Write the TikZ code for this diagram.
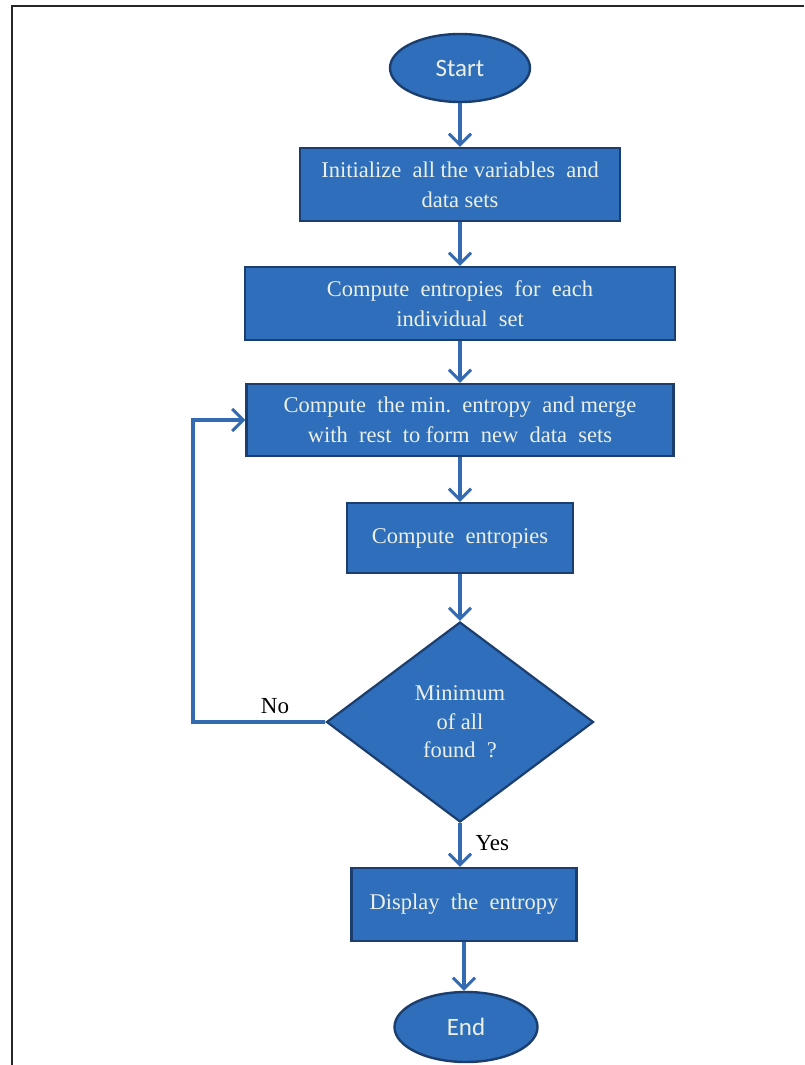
\documentclass[tikz,border=0pt]{standalone}
\usepackage{fontspec}
\setmainfont{Liberation Serif}
\newfontfamily\calib{Carlito}
\usetikzlibrary{shapes.geometric,arrows.meta}
\definecolor{boxfill}{RGB}{46,110,186}
\definecolor{boxedge}{RGB}{28,62,110}
\definecolor{flowline}{RGB}{52,106,176}
\definecolor{boxtext}{RGB}{236,240,228}
\tikzset{
  proc/.style={rectangle, draw=boxedge, line width=2.4pt, fill=boxfill,
    text=boxtext, align=center, font=\fontsize{22.5}{30}\selectfont,
    inner sep=0pt},
  term/.style={ellipse, draw=boxedge, line width=2.4pt, fill=boxfill,
    text=boxtext, font=\calib\fontsize{25}{28}\selectfont, inner sep=0pt},
  decide/.style={diamond, draw=boxedge, line width=2.2pt, fill=boxfill,
    text=boxtext, align=center, font=\fontsize{22.5}{28.5}\selectfont,
    inner sep=0pt},
  flow/.style={draw=flowline, line width=3.3pt,
    -{Straight Barb[length=11pt,width=22pt,line width=3pt]}},
  tag/.style={font=\fontsize{23}{26}\selectfont, text=black},
}
\begin{document}
\begin{tikzpicture}[x=1pt,y=-1pt]
\useasboundingbox (0,0) rectangle (804,1065);
% page frame (top and left edges only)
\draw[line width=2.5pt, black!85] (804,6) -- (12,6) -- (12,1065);

\node[term, minimum width=140pt, minimum height=68pt] (start) at (460,68) {Start};
\node[proc, minimum width=320pt, minimum height=73pt] (init) at (460,184.5)
  {Initialize\ \ all\ the\ variables\ \ and\\ data sets};
\node[proc, minimum width=430pt, minimum height=73pt] (ent) at (460,303.5)
  {Compute\ \ entropies\ \ for\ \ each\\ individual\ \ set};
\node[proc, minimum width=427pt, minimum height=72pt] (merge) at (460,420)
  {Compute\ \ the min.\ \ entropy\ \ and\ merge\\ with\ \ rest\ \ to form\ \ new\ \ data\ \ sets};
\node[proc, minimum width=226pt, minimum height=70pt] (ent2) at (460,538)
  {Compute\ \ entropies};
\node[decide, minimum width=267pt, minimum height=200pt] (dec) at (460,722)
  {Minimum\\ of all\\ found\ \ ?};
\node[proc, minimum width=225pt, minimum height=73pt] (disp) at (464,904.5)
  {Display\ \ the\ \ entropy};
\node[term, minimum width=143pt, minimum height=70pt] (end) at (466,1027) {End};

\coordinate (loop) at (193,722);

\draw[flow] (start) -- (init);
\draw[flow] (init) -- (ent);
\draw[flow] (ent) -- (merge);
\draw[flow] (merge) -- (ent2);
\draw[flow] (ent2.south) -- (dec.north);
\draw[flow] (dec.south) -- (dec.south |- disp.north);
\draw[flow] (disp.south) -- (disp.south |- end.north);
\draw[flow] (dec.west) -- (loop) |- (merge.west);

\node[tag] (no) at (275,706) {No};
\node[tag, anchor=west] (yes) at (472,843) {Yes};
\end{tikzpicture}
\end{document}
